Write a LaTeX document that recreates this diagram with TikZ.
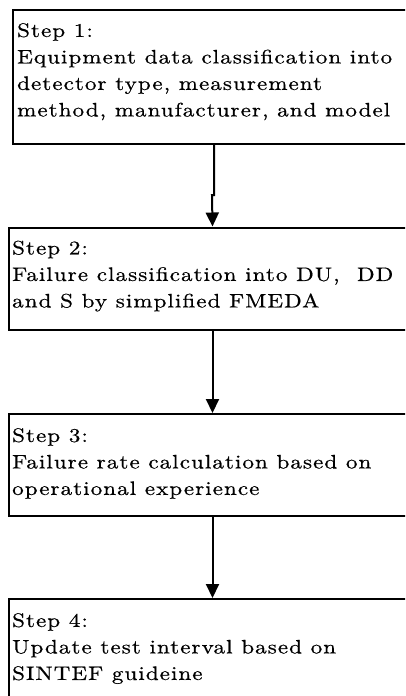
\documentclass[tikz,border=0pt]{standalone}
\usepackage{fontspec}
\newfontfamily\stepfont{lmroman10-regular.otf}[FakeStretch=1.18,LetterSpace=5.5,FakeBold=0.6]
\usetikzlibrary{arrows.meta,calc}

\tikzset{
  stepbox/.style={draw, line width=2pt, anchor=north west, inner sep=0pt,
                  minimum width=430pt, minimum height=#1},
  steptext/.style={anchor=north west, align=left, inner sep=0pt,
                   font=\stepfont\fontsize{19.5}{26.5}\selectfont},
  flow/.style={line width=2pt, -{Triangle[width=13pt,length=14pt]}}
}

\begin{document}
\begin{tikzpicture}[x=1pt,y=-1pt]
  \useasboundingbox (0,0) rectangle (405,696);
  \clip (0,0) rectangle (405,696);

  % the four process boxes
  \node[stepbox=134pt] (s1) at (11.5,9) {};
  \node[stepbox=102pt] (s2) at (8,226.5) {};
  \node[stepbox=102pt] (s3) at (8,413) {};
  \node[stepbox=130pt] (s4) at (8,598) {};

  % box texts
  \node[steptext] (t1) at ($(s1.north west)+(5.5pt,-14pt)$)
    {Step 1:\\Equipment data classification into\\detector type, measurement\\method, manufacturer, and model};
  \node[steptext] (t2) at ($(s2.north west)+(4pt,-14pt)$)
    {Step 2:\\Failure classification into DU,\ \ DD\\and S by simplified FMEDA};
  \node[steptext] (t3) at ($(s3.north west)+(4pt,-15pt)$)
    {Step 3:\\Failure rate calculation based on\\operational experience};
  \node[steptext] (t4) at ($(s4.north west)+(4pt,-15pt)$)
    {Step 4:\\Update test interval based on\\SINTEF guideine};

  % connectors
  \coordinate (j1) at ($(s1.south west)+(202.5pt,-50pt)$);
  \draw[flow] ([xshift=202.5pt]s1.south west) -- (j1) -- ++(-2pt,0)
              -- ([xshift=204.5pt]s2.north west);
  \draw[flow] ([xshift=204.5pt]s2.south west) -- ([xshift=204.5pt]s3.north west);
  \draw[flow] ([xshift=204.5pt]s3.south west) -- ([xshift=204.5pt]s4.north west);
\end{tikzpicture}
\end{document}
